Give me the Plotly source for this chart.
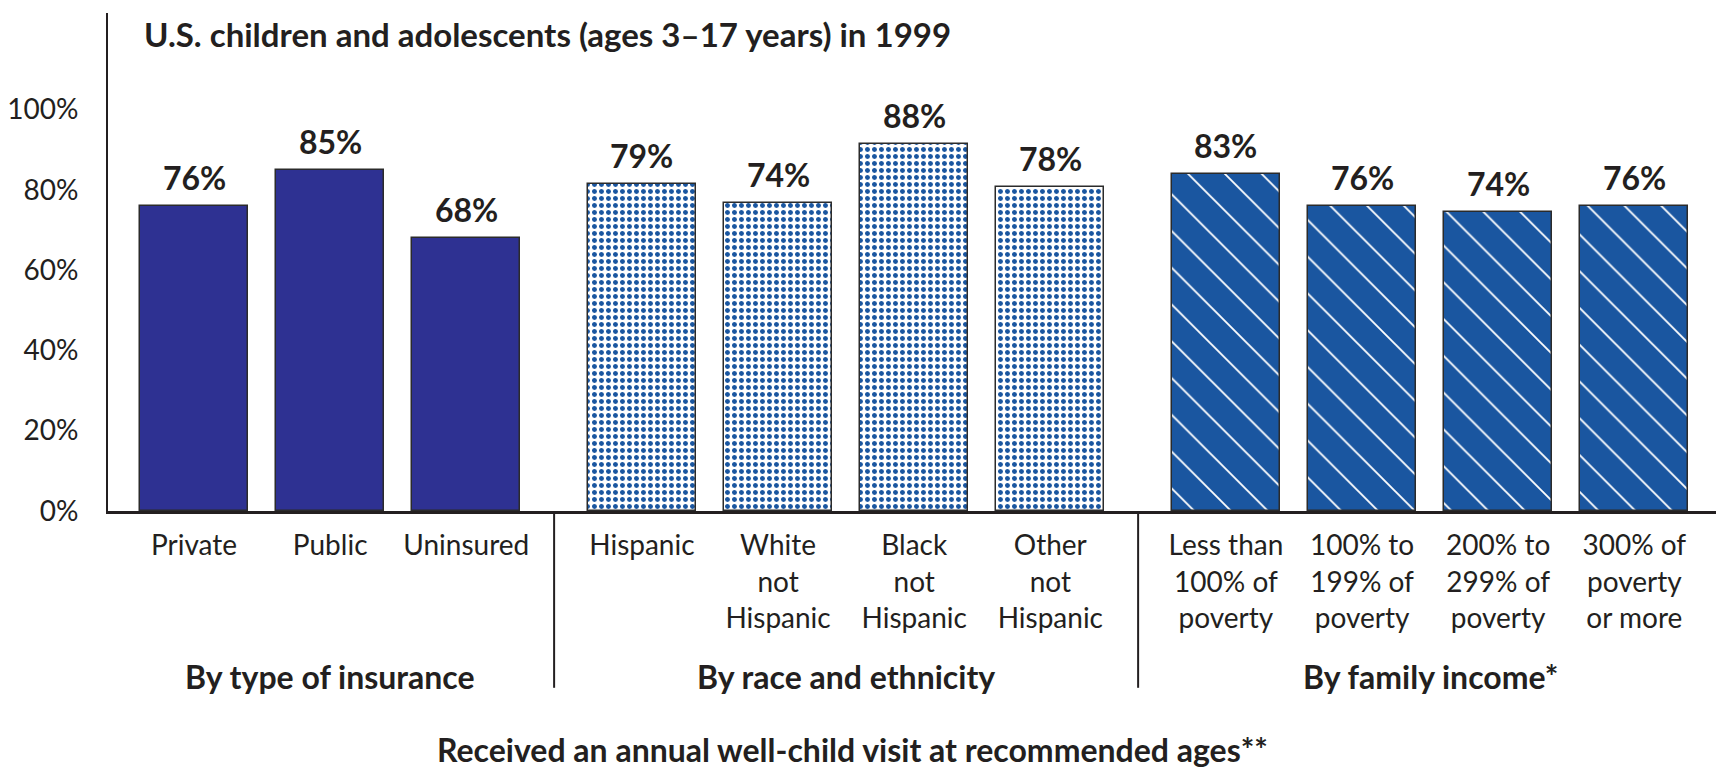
import plotly.graph_objects as go

# --- data ---
ins_cats = ["Private", "Public", "Uninsured"]
ins_vals = [76, 85, 68]
ins_text = ["76%", "85%", "68%"]

race_cats = ["Hispanic", "White<br>not<br>Hispanic", "Black<br>not<br>Hispanic", "Other<br>not<br>Hispanic"]
race_vals = [81.5, 76.8, 91.5, 80.7]   # bar heights as drawn in the source
race_text = ["79%", "74%", "88%", "78%"]

inc_cats = ["Less than<br>100% of<br>poverty", "100% to<br>199% of<br>poverty",
            "200% to<br>299% of<br>poverty", "300% of<br>poverty<br>or more"]
inc_vals = [84, 76, 74.5, 76]
inc_text = ["83%", "76%", "74%", "76%"]

group_titles = ["By type of insurance", "By race and ethnicity", "By family income*"]
y_ticks = [0, 20, 40, 60, 80, 100]

FONT = "Lato"
INK = "#231f20"
NAVY = "#2e3192"
BLUE = "#1a56a0"
GAP = 0.29

groups = [(ins_cats, ins_vals, ins_text), (race_cats, race_vals, race_text), (inc_cats, inc_vals, inc_text)]
patterns = [
    dict(shape=""),
    dict(shape=".", fgcolor=BLUE, bgcolor="white", size=7, solidity=0.4, fillmode="replace"),
    dict(shape="\\", fgcolor="white", bgcolor=BLUE, size=26, solidity=0.07, fillmode="replace"),
]
colors = [NAVY, "white", BLUE]

fig = go.Figure()
all_x, all_lbl, centers, seps = [], [], [], []
start = 0
for g, (cats, vals, texts) in enumerate(groups):
    xs = [start + i + g * GAP for i in range(len(cats))]
    if g > 0:
        seps.append((all_x[-1] + xs[0]) / 2)
    all_x += xs
    all_lbl += cats
    centers.append((xs[0] + xs[-1]) / 2)
    start += len(cats)
    fig.add_trace(go.Bar(
        x=xs, y=vals, width=0.795,
        marker=dict(color=colors[g], line=dict(color="#2b2b2b", width=1.5), pattern=patterns[g]),
        showlegend=False, hoverinfo="skip",
    ))
    for x, v, t in zip(xs, vals, texts):
        fig.add_annotation(x=x, y=v, text=f"<b>{t}</b>", showarrow=False, yanchor="middle", yshift=28,
                           font=dict(family=FONT, size=32, color=INK))

for sx in seps:
    fig.add_shape(type="line", xref="x", yref="paper", x0=sx, x1=sx, y0=0, y1=-0.355,
                  line=dict(color=INK, width=2))

for cx, t in zip(centers, group_titles):
    fig.add_annotation(x=cx, xref="x", y=-0.333, yref="paper", text=f"<b>{t}</b>", showarrow=False,
                       yanchor="middle", font=dict(family=FONT, size=32, color=INK))

fig.add_annotation(x=0.463, xref="paper", y=-0.478, yref="paper",
                   text="<b>Received an annual well-child visit at recommended ages**</b>", showarrow=False,
                   yanchor="middle", font=dict(family=FONT, size=32, color=INK))
fig.add_annotation(x=0.0211, xref="paper", xanchor="left", y=0.958, yref="paper",
                   text="<b>U.S. children and adolescents (ages 3–17 years) in 1999</b>", showarrow=False,
                   yanchor="middle", font=dict(family=FONT, size=33, color=INK))

fig.update_layout(
    width=1716, height=771,
    margin=dict(l=108, r=0, t=13, b=260),
    paper_bgcolor="white", plot_bgcolor="white",
    font=dict(family=FONT, color=INK),
    bargap=0,
)
fig.update_xaxes(range=[-0.632, all_x[-1] + 0.6], tickvals=all_x, ticktext=all_lbl,
                 showgrid=False, zeroline=False, showline=True, linecolor=INK, linewidth=2.5,
                 ticks="", ticklabelstandoff=8, tickfont=dict(family=FONT, size=28, color=INK))
fig.update_yaxes(range=[0, 124], tickvals=y_ticks, ticktext=[f"{v}%" for v in y_ticks],
                 showgrid=False, zeroline=False, showline=True, linecolor=INK, linewidth=2,
                 ticks="", ticklabelstandoff=22, tickfont=dict(family=FONT, size=28, color=INK))

fig.write_html("out.html", config={"displayModeBar": False},
               post_script="document.body.style.margin='0';document.body.style.overflow='hidden';")
